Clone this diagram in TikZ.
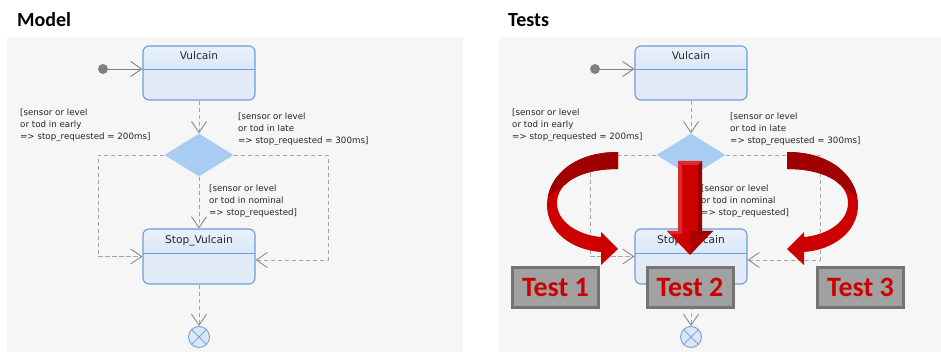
\documentclass[tikz,border=0pt]{standalone}
\usepackage{fontspec}
\setmainfont{DejaVu Sans}
\newfontfamily\carl{Carlito}
\usetikzlibrary{arrows.meta,shapes.geometric,calc}
\definecolor{bgpanel}{HTML}{F6F6F6}
\definecolor{boxline}{HTML}{6C9DDA}
\definecolor{boxbody}{HTML}{E1EBF7}
\definecolor{hdrtop}{HTML}{E9F1FB}
\definecolor{hdrbot}{HTML}{C6DAF1}
\definecolor{diafill}{HTML}{A9CCF2}
\definecolor{dashgray}{HTML}{A6A6A6}
\definecolor{arrgray}{HTML}{8A8A8A}
\definecolor{dotgray}{HTML}{808080}
\definecolor{txtgray}{HTML}{262626}
\definecolor{finfill}{HTML}{DCE7F5}
\definecolor{finline}{HTML}{7DA8DE}
\definecolor{redmain}{HTML}{CC0000}
\definecolor{reddark}{HTML}{A00000}
\definecolor{redlight}{HTML}{DE2A2A}
\definecolor{redshade}{HTML}{990000}
\definecolor{testfill}{HTML}{A1A1A1}
\definecolor{testline}{HTML}{747474}
\tikzset{
  statebox/.style={draw=boxline, line width=1.1pt, fill=boxbody, rounded corners=6pt,
    minimum width=112pt, inner sep=0pt,
    path picture={\fill[top color=hdrtop,bottom color=hdrbot]
        (path picture bounding box.north west) rectangle ([yshift=-#1pt]path picture bounding box.north east);
      \draw[boxline,line width=0.9pt] ([yshift=-#1pt]path picture bounding box.north west) -- ([yshift=-#1pt]path picture bounding box.north east);}},
  boxtitle/.style={font=\fontsize{10.6}{12}\selectfont, text=txtgray, inner sep=0pt},
  lbl/.style={font=\fontsize{8.7}{11.8}\selectfont, text=txtgray, inner sep=0pt, align=left, anchor=north west},
  solidarr/.style={draw=dotgray, line width=0.9pt, -{Straight Barb[length=11pt,width=15pt,line width=0.9pt]}},
  dashln/.style={draw=dashgray, line width=0.9pt, dash pattern=on 4.5pt off 2.5pt},
  dasharr/.style={dashln, -{Straight Barb[length=11pt,width=15pt,line width=0.9pt,color=arrgray]}},
  testbox/.style={draw=testline, line width=3pt, fill=testfill, minimum width=86pt, minimum height=40pt,
    inner sep=0pt, font=\carl\bfseries\fontsize{28}{28}\selectfont, text=redmain},
  paneltitle/.style={font=\carl\bfseries\fontsize{20}{20}\selectfont, inner sep=0pt, anchor=base west}
}
\newcommand\drawmodel[1]{%
  \node[statebox=23, minimum height=54pt] (#1v) at (199,73) {};
  \node[boxtitle, anchor=base] (#1vt) at (199,59.5) {Vulcain};
  \node[statebox=24, minimum height=55pt] (#1s) at (199,256.5) {};
  \node[boxtitle, anchor=base] (#1st) at (199,243.8) {Stop\_Vulcain};
  \node[circle, fill=dotgray, minimum size=10pt, inner sep=0pt] (#1i) at (103,69) {};
  \node[diamond, fill=diafill, minimum width=69pt, minimum height=43pt, inner sep=0pt] (#1d) at (199,155) {};
  \node[circle, draw=finline, fill=finfill, line width=1pt, minimum size=21pt, inner sep=0pt] (#1f) at (199,337) {};
  \draw[finline, line width=1pt] (#1f.north west) -- (#1f.south east) (#1f.north east) -- (#1f.south west);
  \coordinate (#1l) at (98,155);
  \coordinate (#1r) at (328,155);
  \draw[solidarr] (#1i) -- (#1i -| #1v.west);
  \draw[dasharr] (#1v.south) -- (#1d.north);
  \draw[dasharr] (#1d.west) -- (#1l) |- (#1s.west);
  \draw[dasharr] (#1d.east) -- (#1r) |- ($(#1s.east)+(0,3.5)$);
  \draw[dasharr] (#1d.south) -- (#1s.north);
  \draw[dasharr] (#1s.south) -- (#1f.north);
  \node[lbl] (#1la) at (20,109) {[sensor or level\\or tod in early\\=> stop\_requested = 200ms]};
  \node[lbl] (#1lb) at (238,113) {[sensor or level\\or tod in late\\=> stop\_requested = 300ms]};
  \node[lbl] (#1lc) at (209,185) {[sensor or level\\or tod in nominal\\=> stop\_requested]};
}
\newcommand\curvedarrow{%
  \fill[redmain] (618,152) .. controls (572,152) and (547,178) .. (547,205)
     .. controls (547,232) and (572,250) .. (601,252) -- (601,265) -- (618,249) -- (601,232) -- (601,237)
     .. controls (578,235) and (557,222) .. (557,203) .. controls (557,182) and (582,169) .. (618,169) -- cycle;
  \begin{scope}
    \clip (618,152) .. controls (572,152) and (547,178) .. (547,205)
     .. controls (547,232) and (572,250) .. (601,252) -- (601,265) -- (618,249) -- (601,232) -- (601,237)
     .. controls (578,235) and (557,222) .. (557,203) .. controls (557,182) and (582,169) .. (618,169) -- cycle;
    \fill[reddark] (540,140) -- (630,140) -- (630,172) -- (566,184) -- (540,202) -- cycle;
  \end{scope}
}
\begin{document}
\begin{tikzpicture}[x=1pt,y=-1pt]
\useasboundingbox (0,0) rectangle (941,352);
\fill[white] (0,0) rectangle (941,352);
\fill[bgpanel] (7,37) rectangle (463,352);
\fill[bgpanel] (499,37) rectangle (941,352);
\node[paneltitle] (tm) at (17,27) {Model};
\node[paneltitle] (tt) at (508,27) {Tests};
\begin{scope}
  \drawmodel{a}
\end{scope}
\begin{scope}[xshift=492pt]
  \drawmodel{b}
\end{scope}
% curved arrows
\curvedarrow
\begin{scope}[xshift=1405pt, xscale=-1]
  \curvedarrow
\end{scope}
% straight down arrow
\fill[redmain] (678,161) rectangle (702,232);
\fill[redlight] (678,161) -- (682,165) -- (682,232) -- (678,232) -- cycle;
\fill[redshade] (702,161) -- (698,165) -- (698,232) -- (702,232) -- cycle;
\fill[redlight] (678,161) -- (702,161) -- (698,165) -- (682,165) -- cycle;
\fill[redmain] (667,231) -- (690,231) -- (690,255) -- cycle;
\fill[redmain!85!black] (690,231) -- (713,231) -- (690,255) -- cycle;
\fill[redlight] (667,231) -- (682,231) -- (682,234) -- (671,234) -- cycle;
\fill[redshade] (698,231) -- (713,231) -- (709,234) -- (698,234) -- cycle;
% test boxes
\node[testbox] (t1) at (555.5,287.5) {Test 1};
\node[testbox] (t2) at (690,287.5) {Test 2};
\node[testbox] (t3) at (860.5,287.5) {Test 3};
\end{tikzpicture}
\end{document}
